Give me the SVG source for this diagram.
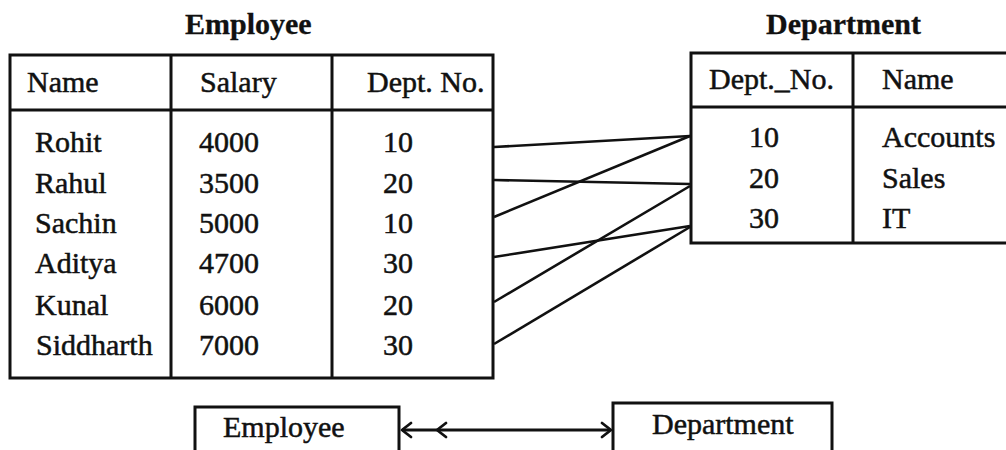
<svg xmlns="http://www.w3.org/2000/svg" width="1006" height="450" viewBox="0 0 1006 450">
<style>
text{font-family:"Liberation Serif","Times New Roman",serif;font-size:30px;fill:#111;stroke:#111;stroke-width:0.5}
.b{font-weight:bold;stroke-width:0.3}
.box{fill:none;stroke:#111;stroke-width:3}
.ln{stroke:#111;stroke-width:3;fill:none}
.cn{stroke:#111;stroke-width:2.6;fill:none}
.hd{stroke:#111;stroke-width:2.8;fill:none;stroke-linecap:round;stroke-linejoin:round}
</style>
<rect width="1006" height="450" fill="#ffffff"/>
<g id="employee-table">
<text class="b" x="185" y="34">Employee</text>
<rect class="box" x="10" y="55" width="483" height="323"/>
<line class="ln" x1="10" y1="110" x2="493" y2="110"/>
<line class="ln" x1="171" y1="55" x2="171" y2="378"/>
<line class="ln" x1="332" y1="55" x2="332" y2="378"/>
<text x="27" y="92">Name</text>
<text x="200" y="92">Salary</text>
<text x="367" y="92">Dept. No.</text>
<text x="35" y="152">Rohit</text>
<text x="35" y="193">Rahul</text>
<text x="35" y="233">Sachin</text>
<text x="35" y="273">Aditya</text>
<text x="35" y="315">Kunal</text>
<text x="36" y="355">Siddharth</text>
<text x="199" y="152">4000</text>
<text x="199" y="193">3500</text>
<text x="199" y="233">5000</text>
<text x="199" y="273">4700</text>
<text x="199" y="315">6000</text>
<text x="199" y="355">7000</text>
<text x="383" y="152">10</text>
<text x="383" y="193">20</text>
<text x="383" y="233">10</text>
<text x="383" y="273">30</text>
<text x="383" y="315">20</text>
<text x="383" y="355">30</text>
</g>
<g id="department-table">
<text class="b" x="766" y="34">Department</text>
<rect class="box" x="691" y="53" width="330" height="190"/>
<line class="ln" x1="691" y1="107" x2="1021" y2="107"/>
<line class="ln" x1="853" y1="53" x2="853" y2="243"/>
<text x="709" y="89">Dept._No.</text>
<text x="882" y="89">Name</text>
<text x="749" y="147">10</text>
<text x="749" y="188">20</text>
<text x="749" y="228">30</text>
<text x="882" y="147">Accounts</text>
<text x="882" y="188">Sales</text>
<text x="882" y="228">IT</text>
</g>
<g id="employee-box">
<rect class="box" x="195" y="407" width="204" height="60"/>
<text x="223" y="437">Employee</text>
</g>
<g id="department-box">
<rect class="box" x="613" y="403" width="219" height="64"/>
<text x="652" y="434">Department</text>
</g>
<g id="connectors">
<line class="cn" x1="494" y1="147" x2="690" y2="136"/>
<line class="cn" x1="494" y1="180" x2="690" y2="184"/>
<line class="cn" x1="494" y1="217" x2="690" y2="136"/>
<line class="cn" x1="494" y1="257" x2="690" y2="226"/>
<line class="cn" x1="494" y1="302" x2="690" y2="186"/>
<line class="cn" x1="494" y1="344" x2="690" y2="227"/>
<line class="ln" x1="402" y1="430" x2="610" y2="430"/>
<path class="hd" d="M411 423 L402 430 L411 437"/>
<path class="hd" d="M446 423 L437 430 L446 437"/>
<path class="hd" d="M602 423 L611 430 L602 437"/>
</g>
</svg>
